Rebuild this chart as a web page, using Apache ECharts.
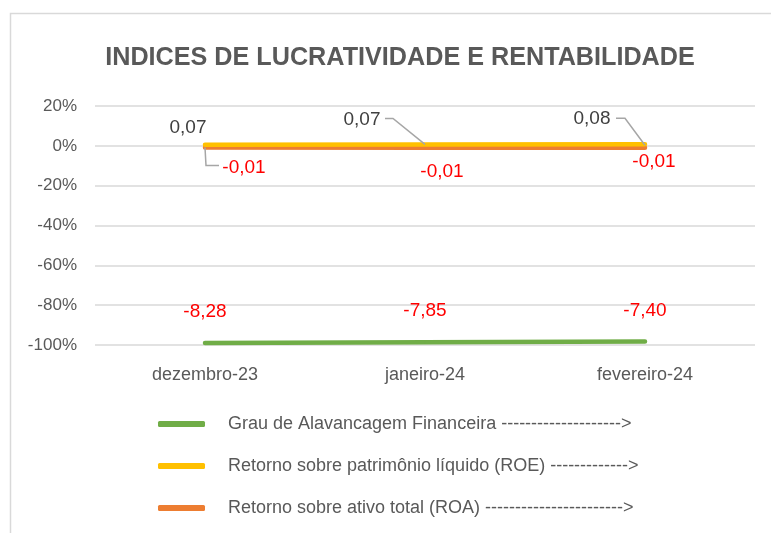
<!DOCTYPE html>
<html>
<head>
<meta charset="utf-8">
<script src="https://cdn.jsdelivr.net/npm/echarts@6/dist/echarts.min.js"></script>
<style>
  html, body { margin: 0; padding: 0; background: #fff; }
  #grafico { width: 771px; height: 533px; }
</style>
</head>
<body>
<div id="grafico"></div>
<script>
// categorias (meses)
var meses = ['dezembro-23', 'janeiro-24', 'fevereiro-24'];
// posição das linhas no eixo (fração, eixo em %)
var galValores = [-0.99, -0.986, -0.982];
var roeValores = [0.006, 0.007, 0.008];
var roaValores = [-0.008, -0.009, -0.01];
// rótulos de dados como aparecem na planilha
var galRotulos = ['-8,28', '-7,85', '-7,40'];
var roeRotulos = ['0,07', '0,07', '0,08'];
var roaRotulos = ['-0,01', '-0,01', '-0,01'];
// legenda
var nomes = [
  'Grau de Alavancagem Financeira -------------------->',
  'Retorno sobre patrimônio líquido (ROE) ------------->',
  'Retorno sobre ativo total (ROA) ----------------------->'
];
var cores = ['#70AD47', '#FFC000', '#ED7D31'];

var fonte = '"Liberation Sans", Arial, sans-serif';

// deslocamento dos rótulos em relação ao ponto [dx, dy]
var galDesloc = [[0, -31], [0, -31], [0, -31]];
var roeDesloc = [[-17, -17], [-63, -25], [-53, -25]];
var roaDesloc = [[39, 20], [17, 24], [9, 14]];
// linhas de chamada: série, ponto e traçado relativo ao ponto
var chamadas = [
  { serie: 1, ponto: 1, tracado: [[-40, -26], [-32, -26], [0, 0]] },
  { serie: 1, ponto: 2, tracado: [[-29, -26], [-20, -26], [0, 1]] },
  { serie: 2, ponto: 0, tracado: [[0, 0], [1, 18], [14, 18]] }
];

function montaDados(valores, rotulos) {
  return valores.map(function (v, i) {
    return { value: v, rotulo: rotulos[i] };
  });
}

function layoutRotulos(desloc) {
  return function (p) {
    var d = desloc[p.dataIndex];
    var cx = p.rect.x + p.rect.width / 2;
    var cy = p.rect.y + p.rect.height / 2;
    var lr = p.labelRect;
    return { x: cx + d[0] - lr.width / 2, y: cy + d[1] - lr.height / 2, align: 'left', verticalAlign: 'top' };
  };
}

function rotulo(cor) {
  return {
    show: true,
    position: 'inside',
    color: cor,
    fontSize: 19,
    fontFamily: fonte,
    formatter: function (p) { return p.data.rotulo; }
  };
}

var chart = echarts.init(document.getElementById('grafico'));
chart.setOption({
  backgroundColor: '#fff',
  animation: false,
  textStyle: { fontFamily: fonte },
  graphic: [{
    id: 'moldura',
    type: 'rect',
    shape: { x: 10.5, y: 13.5, width: 800, height: 600 },
    style: { fill: 'none', stroke: '#d9d9d9', lineWidth: 1.5 },
    silent: true
  }],
  title: {
    text: 'INDICES DE LUCRATIVIDADE E RENTABILIDADE',
    left: 395,
    textAlign: 'center',
    top: 41,
    textStyle: { color: '#595959', fontSize: 25.2, fontWeight: 'bold', fontFamily: fonte }
  },
  legend: {
    orient: 'vertical',
    left: 153,
    top: 410,
    itemGap: 24,
    itemWidth: 47,
    itemHeight: 6,
    icon: 'roundRect',
    textStyle: { color: '#595959', fontSize: 18, fontFamily: fonte, padding: [0, 0, 0, 18] },
    data: nomes
  },
  grid: { left: 95, right: 16, top: 106, bottom: 188 },
  xAxis: {
    type: 'category',
    data: meses,
    boundaryGap: true,
    axisLine: { show: false },
    axisTick: { show: false },
    axisLabel: { color: '#595959', fontSize: 18, margin: 21, fontFamily: fonte }
  },
  yAxis: {
    type: 'value',
    min: -1,
    max: 0.2,
    interval: 0.2,
    axisLine: { show: false },
    axisTick: { show: false },
    splitLine: { lineStyle: { color: '#d9d9d9', width: 1.5 } },
    axisLabel: {
      color: '#595959', fontSize: 17, margin: 18, fontFamily: fonte,
      formatter: function (v) { return Math.round(v * 100) + '%'; }
    }
  },
  series: [
    {
      name: nomes[0],
      type: 'line',
      data: montaDados(galValores, galRotulos),
      color: cores[0],
      symbol: 'circle',
      symbolSize: 2,
      lineStyle: { width: 4.5, cap: 'round' },
      label: rotulo('#FF0000'),
      labelLayout: layoutRotulos(galDesloc),
      z: 2
    },
    {
      name: nomes[1],
      type: 'line',
      data: montaDados(roeValores, roeRotulos),
      color: cores[1],
      symbol: 'circle',
      symbolSize: 2,
      lineStyle: { width: 4.5, cap: 'round' },
      label: rotulo('#404040'),
      labelLayout: layoutRotulos(roeDesloc),
      z: 4
    },
    {
      name: nomes[2],
      type: 'line',
      data: montaDados(roaValores, roaRotulos),
      color: cores[2],
      symbol: 'circle',
      symbolSize: 2,
      lineStyle: { width: 4.5, cap: 'round' },
      label: rotulo('#FF0000'),
      labelLayout: layoutRotulos(roaDesloc),
      z: 3
    }
  ]
});

// linhas de chamada ancoradas nos pontos calculados pela escala do gráfico
var valoresPorSerie = [galValores, roeValores, roaValores];
chart.setOption({
  graphic: chamadas.map(function (c, i) {
    var p = chart.convertToPixel({ seriesIndex: c.serie }, [c.ponto, valoresPorSerie[c.serie][c.ponto]]);
    return {
      id: 'chamada' + i,
      type: 'polyline',
      z: 10,
      silent: true,
      shape: { points: c.tracado.map(function (t) { return [p[0] + t[0], p[1] + t[1]]; }) },
      style: { fill: 'none', stroke: '#a6a6a6', lineWidth: 1.5 }
    };
  })
});
</script>
</body>
</html>
